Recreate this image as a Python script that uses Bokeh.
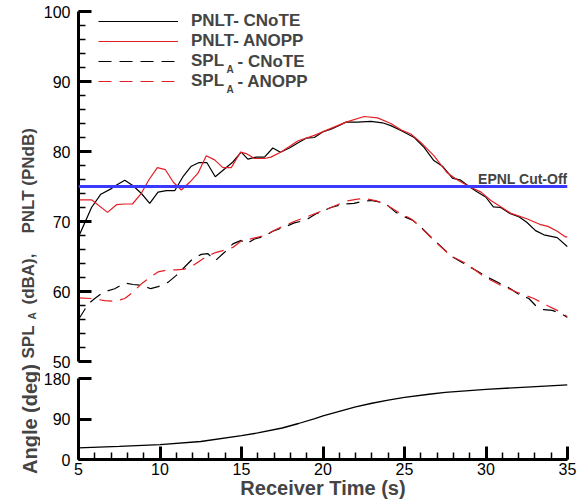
from bokeh.plotting import figure
from bokeh.layouts import column, row
from bokeh.models import (Range1d, Span, Label, Legend, LegendItem,
                          SingleIntervalTicker, FixedTicker)
from bokeh.embed import file_html
from bokeh.resources import INLINE

# ---------------- data ----------------
t_pnlt_cnote = [5.0, 5.8, 6.37, 7.02, 7.39, 7.84, 8.35, 8.86, 9.37, 9.88, 10.39, 10.9,
                11.41, 11.92, 12.37, 12.88, 13.39, 13.96, 14.47, 14.98, 15.39, 15.9,
                16.41, 16.92, 17.39, 17.94, 18.45, 18.96, 19.47, 19.98, 20.49, 20.9,
                21.41, 22.12, 22.94, 23.65, 24.16, 24.78, 25.6, 26.2, 26.8, 27.33,
                27.94, 28.45, 28.96, 29.47, 29.98, 30.45, 30.9, 31.5, 32.0, 32.5,
                33.04, 33.55, 34.37, 35.0]
pnlt_cnote = [67.8, 72.0, 73.9, 74.7, 75.3, 75.9, 75.1, 74.0, 72.6, 74.2, 74.4, 74.4,
              76.4, 77.9, 78.4, 78.4, 76.4, 77.5, 78.5, 79.9, 78.9, 79.2,
              79.2, 80.5, 79.9, 80.5, 81.2, 81.9, 82.0, 82.8, 83.2, 83.6,
              84.2, 84.2, 84.3, 84.1, 83.7, 83.0, 82.0, 80.6, 78.7, 77.9,
              76.2, 75.9, 75.0, 74.2, 73.5, 72.1, 72.0, 71.1, 70.7, 69.9,
              68.7, 68.1, 67.7, 66.4]

t_pnlt_anopp = [5.0, 5.8, 6.78, 7.33, 7.84, 8.31, 8.82, 9.33, 9.84, 10.33, 10.82, 11.31,
                11.82, 12.33, 12.84, 13.35, 13.86, 14.37, 14.94, 15.29, 15.8, 16.41,
                16.8, 17.4, 18.45, 19.47, 20.49, 21.41, 22.53, 23.35, 24.16, 24.78,
                25.39, 26.0, 26.8, 27.6, 28.2, 28.96, 29.7, 30.3, 30.9, 31.5, 32.5,
                33.3, 33.8, 34.37, 34.88, 35.0]
pnlt_anopp = [73.1, 73.1, 71.3, 72.4, 72.5, 72.5, 73.9, 76.0, 77.7, 77.4, 75.6, 74.5,
              75.6, 76.9, 79.4, 78.8, 77.7, 77.7, 79.9, 79.7, 79.0, 79.0,
              79.2, 79.9, 81.5, 82.3, 83.3, 84.2, 85.0, 84.8, 84.0, 83.1,
              82.5, 81.3, 79.4, 77.0, 76.0, 75.0, 74.2, 73.0, 72.1, 71.2, 70.4,
              69.6, 69.3, 68.6, 67.8, 67.8]

t_spl_cnote = [5.0, 5.59, 6.0, 6.51, 7.22, 7.84, 8.35, 8.86, 9.43, 9.88, 10.49, 11.0,
               11.51, 12.02, 12.53, 12.94, 13.39, 13.96, 14.47, 14.98, 15.29, 15.8,
               16.41, 16.92, 17.63, 18.24, 18.96, 19.57, 20.49, 21.29, 21.9, 22.53,
               22.94, 23.45, 23.96, 24.47, 24.98, 25.49, 26.0, 26.8, 27.84, 28.86,
               29.69, 30.3, 30.9, 31.5, 32.0, 32.63, 33.04, 33.55, 34.06, 34.57, 35.0]
spl_cnote = [56.0, 58.2, 59.0, 59.9, 60.4, 61.2, 61.0, 60.9, 60.4, 60.7, 61.3, 62.3,
             63.5, 64.7, 65.3, 65.4, 64.4, 65.6, 66.8, 67.3, 66.8, 67.5,
             67.9, 68.6, 69.2, 69.8, 70.2, 71.1, 72.0, 72.5, 72.6, 72.9,
             73.0, 72.8, 72.3, 71.3, 70.7, 70.2, 69.2, 67.4, 65.1, 63.7,
             62.6, 61.8, 61.1, 60.4, 59.6, 59.0, 58.0, 57.4, 57.3, 56.9, 56.3]

t_spl_anopp = [5.0, 5.8, 6.61, 7.22, 7.84, 8.35, 8.86, 9.37, 9.88, 10.49, 11.0, 11.51,
               12.02, 12.53, 12.94, 13.45, 13.96, 14.47, 14.98, 15.39, 16.41, 17.33,
               18.35, 19.37, 20.49, 21.41, 22.12, 22.53, 23.35, 23.96, 24.57, 25.39,
               25.8, 26.8, 27.84, 28.86, 29.88, 30.9, 31.9, 32.94, 33.75, 34.37, 35.0]
spl_anopp = [59.1, 59.0, 58.7, 58.6, 59.0, 59.9, 61.1, 62.0, 62.8, 63.1, 63.1, 63.2,
             63.7, 64.5, 65.1, 65.6, 65.9, 66.3, 67.2, 67.4, 68.0, 69.1,
             70.1, 71.0, 72.0, 72.9, 73.2, 73.3, 72.9, 72.3, 71.4, 70.4,
             69.6, 67.3, 65.1, 63.9, 62.1, 60.9, 59.9, 59.0, 58.0, 57.3, 56.4]

t_angle = [5.0, 7.5, 10.0, 12.5, 15.0, 16.0, 17.5, 18.5, 19.5, 20.0, 21.0, 22.0,
           23.0, 24.0, 25.0, 26.5, 27.5, 30.0, 32.5, 35.0]
angle = [26, 29, 33, 40, 53, 59, 70, 80, 91, 97, 107, 117,
         125, 132, 138, 145, 149, 156, 161, 166]

epnl_cutoff = 75.0
x_limits = (5, 35)
top_limits = (50, 100)
bottom_limits = (0, 180)
angle_ticks = [0, 90, 180]

RED = "#e31e24"
BLUE = "#3a3aff"
FONT = "Liberation Sans"

x_range = Range1d(*x_limits)


def style_axis(ax):
    ax.axis_line_width = 3
    ax.axis_line_color = "black"
    ax.major_tick_in = 13
    ax.major_tick_out = 0
    ax.minor_tick_in = 7
    ax.minor_tick_out = 0
    ax.major_tick_line_width = 3
    ax.minor_tick_line_width = 1.5
    ax.major_tick_line_color = "black"
    ax.minor_tick_line_color = "black"
    ax.major_label_text_font = FONT
    ax.major_label_text_font_size = "16px"
    ax.major_label_text_color = "black"


# ---------------- left strip holding the rotated axis titles ----------------
STRIP_W = 40
strip = figure(width=STRIP_W, height=503, x_range=Range1d(0, 1), y_range=Range1d(0, 1),
               output_backend="svg", toolbar_location=None,
               x_axis_location=None, y_axis_location=None, min_border=0)
strip.outline_line_color = None
strip.xgrid.visible = False
strip.ygrid.visible = False

ylab = dict(x_units="screen", y_units="screen", angle=90, angle_units="deg",
            text_baseline="alphabetic", text_font=FONT, text_font_style="bold")
strip.add_layout(Label(x=27.5, y=145, text="SPL", text_align="left",
                       text_font_size="17px", **ylab))
strip.add_layout(Label(x=31.5, y=184, text="A", text_align="left",
                       text_font_size="10px", **ylab))
strip.add_layout(Label(x=27.5, y=199, text="(dBA),", text_align="left",
                       text_font_size="17px", **ylab))
strip.add_layout(Label(x=27.5, y=270, text="PNLT (PNdB)", text_align="left",
                       text_font_size="17px", **ylab))
strip.add_layout(Label(x=29.5, y=84.5, text="Angle (deg)", text_align="center",
                       text_font_size="20px", **ylab))

# ---------------- top panel ----------------
p1 = figure(width=588 - STRIP_W, height=369, x_range=x_range, y_range=Range1d(*top_limits),
            output_backend="svg", toolbar_location=None, x_axis_location=None,
            min_border_left=77 - STRIP_W, min_border_right=21,
            min_border_top=11, min_border_bottom=8)
p1.outline_line_color = None
p1.xgrid.visible = False
p1.ygrid.visible = False
ya = p1.yaxis[0]
ya.ticker = SingleIntervalTicker(interval=10, num_minor_ticks=5)
style_axis(ya)
ya.major_label_standoff = 8

r1 = p1.line(t_pnlt_cnote, pnlt_cnote, line_color="black", line_width=1.2)
r2 = p1.line(t_pnlt_anopp, pnlt_anopp, line_color=RED, line_width=1.2)
r3 = p1.line(t_spl_cnote, spl_cnote, line_color="black", line_width=1.2, line_dash="13 8")
r4 = p1.line(t_spl_anopp, spl_anopp, line_color=RED, line_width=1.2, line_dash="13 8")

p1.add_layout(Span(location=epnl_cutoff, dimension="width", line_color=BLUE, line_width=3))
p1.add_layout(Label(x=x_limits[1], y=epnl_cutoff, y_offset=8, text="EPNL Cut-Off",
                    text_align="right", text_baseline="alphabetic",
                    text_font=FONT, text_font_style="bold", text_font_size="14px"))

legend = Legend(items=[LegendItem(label="PNLT- CNoTE", renderers=[r1]),
                       LegendItem(label="PNLT- ANOPP", renderers=[r2]),
                       LegendItem(label="SPL", renderers=[r3]),
                       LegendItem(label="SPL", renderers=[r4])],
                location=(20, 270.5), padding=0, spacing=0, margin=0,
                glyph_width=80, glyph_height=20, label_height=20, label_standoff=13,
                label_text_font=FONT, label_text_font_style="bold",
                label_text_font_size="17px", border_line_color=None,
                background_fill_alpha=0)
p1.add_layout(legend)

for yrow, txt in [(300.5, "- CNoTE"), (280.5, "- ANOPP")]:
    p1.add_layout(Label(x=159, y=yrow, x_units="screen", y_units="screen", text=txt,
                        text_baseline="middle", text_font=FONT, text_font_style="bold",
                        text_font_size="17px"))
    p1.add_layout(Label(x=148, y=yrow - 8.5, x_units="screen", y_units="screen", text="A",
                        text_baseline="middle", text_font=FONT, text_font_style="bold",
                        text_font_size="10px"))

# ---------------- bottom panel ----------------
p2 = figure(width=588 - STRIP_W, height=134, x_range=x_range, y_range=Range1d(*bottom_limits),
            output_backend="svg", toolbar_location=None,
            min_border_left=77 - STRIP_W, min_border_right=21,
            min_border_top=9, min_border_bottom=44)
p2.outline_line_color = None
p2.xgrid.visible = False
p2.ygrid.visible = False
xa = p2.xaxis[0]
xa.ticker = SingleIntervalTicker(interval=5, num_minor_ticks=5)
style_axis(xa)
xa.major_label_standoff = 3
xa.axis_label = "Receiver Time (s)"
xa.axis_label_text_font = FONT
xa.axis_label_text_font_style = "bold"
xa.axis_label_text_font_size = "20px"
xa.axis_label_standoff = -1

ya2 = p2.yaxis[0]
ya2.ticker = FixedTicker(ticks=angle_ticks, minor_ticks=[])
style_axis(ya2)
ya2.major_label_standoff = 8

p2.line(t_angle, angle, line_color="black", line_width=1.3)

layout = row(strip, column(p1, p2, spacing=0), spacing=0)
open("out.html", "w").write(file_html(layout, INLINE))
